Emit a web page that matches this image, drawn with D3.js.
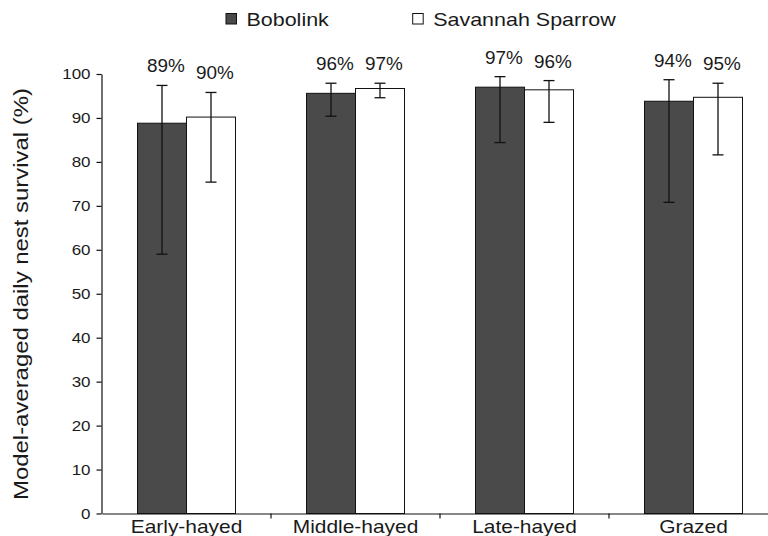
<!DOCTYPE html>
<html>
<head>
<meta charset="utf-8">
<script src="https://cdn.jsdelivr.net/npm/d3@7"></script>
<style>
  html, body { margin: 0; padding: 0; background: #fff; }
  svg { display: block; }
  text { font-family: "Liberation Sans", Arial, Helvetica, sans-serif; fill: #1a1a1a; }
</style>
</head>
<body>
<svg id="chart" width="768" height="536"></svg>
<script>
// Habitat treatments and bird species
const categories = ["Early-hayed", "Middle-hayed", "Late-hayed", "Grazed"];
const seriesNames = ["Bobolink", "Savannah Sparrow"];
const seriesFills = ["#4a4a4a", "#ffffff"];

// Model-averaged daily nest survival (%) with confidence limits
const bobolinkValues = [88.8, 95.6, 97.0, 93.8];
const bobolinkLower  = [59.0, 90.4, 84.4, 70.8];
const bobolinkUpper  = [97.4, 97.9, 99.4, 98.7];
const sparrowValues  = [90.2, 96.7, 96.4, 94.7];
const sparrowLower   = [75.4, 94.6, 89.0, 81.6];
const sparrowUpper   = [95.8, 97.9, 98.5, 97.9];

const yTicks = [0, 10, 20, 30, 40, 50, 60, 70, 80, 90, 100];
const yTitle = "Model-averaged daily nest survival (%)";

const rows = [];
categories.forEach((c, i) => {
  rows.push({ cat: c, series: seriesNames[0], value: bobolinkValues[i], lo: bobolinkLower[i], hi: bobolinkUpper[i] });
  rows.push({ cat: c, series: seriesNames[1], value: sparrowValues[i], lo: sparrowLower[i], hi: sparrowUpper[i] });
});

const svg = d3.select("#chart");

// Widen text along its baseline to match the figure's lettering
function widen(sel, k) {
  sel.each(function () {
    const len = this.getComputedTextLength();
    d3.select(this).attr("textLength", len * k).attr("lengthAdjust", "spacingAndGlyphs");
  });
}

const x0 = d3.scaleBand().domain(categories).range([102, 778]).paddingInner(0).paddingOuter(0);
const x1 = d3.scaleBand().domain(seriesNames).range([35.5, x0.bandwidth() - 35.5]).padding(0);
const y = d3.scaleLinear().domain([0, 100]).range([513.5, 74]);
const color = d3.scaleOrdinal().domain(seriesNames).range(seriesFills);

// Bars
svg.append("g").selectAll("rect")
  .data(rows).join("rect")
  .attr("x", d => x0(d.cat) + x1(d.series))
  .attr("y", d => y(d.value))
  .attr("width", x1.bandwidth())
  .attr("height", d => y(0) - y(d.value))
  .attr("fill", d => color(d.series))
  .attr("stroke", "#111")
  .attr("stroke-width", 1);

// Error bars
const capW = 11;
const eb = svg.append("g").attr("stroke", "#111").attr("stroke-width", 1.3).attr("fill", "none");
const cx = d => x0(d.cat) + x1(d.series) + x1.bandwidth() / 2;
eb.selectAll("line.stem").data(rows).join("line").attr("class", "stem")
  .attr("x1", cx).attr("x2", cx).attr("y1", d => y(d.lo)).attr("y2", d => y(d.hi));
eb.selectAll("line.top").data(rows).join("line").attr("class", "top")
  .attr("x1", d => cx(d) - capW / 2).attr("x2", d => cx(d) + capW / 2)
  .attr("y1", d => y(d.hi)).attr("y2", d => y(d.hi));
eb.selectAll("line.bot").data(rows).join("line").attr("class", "bot")
  .attr("x1", d => cx(d) - capW / 2).attr("x2", d => cx(d) + capW / 2)
  .attr("y1", d => y(d.lo)).attr("y2", d => y(d.lo));

// Value labels
const vl = svg.append("g").selectAll("text").data(rows).join("text")
  .attr("x", d => cx(d) + 4)
  .attr("y", d => y(d.hi) - 13)
  .attr("text-anchor", "middle")
  .attr("font-size", 18)
  .text(d => Math.round(d.value) + "%");
widen(vl, 1.05);

// Y axis
const yAxis = svg.append("g")
  .attr("transform", `translate(${x0.range()[0] - 0.5},0)`)
  .call(d3.axisLeft(y).tickValues(yTicks).tickSize(5).tickPadding(6).tickSizeOuter(0));
yAxis.select(".domain").attr("stroke", "#111").attr("stroke-width", 1.2);
yAxis.selectAll(".tick line").attr("stroke", "#111").attr("stroke-width", 1.2);
const yl = yAxis.selectAll(".tick text").attr("font-size", 15).attr("fill", "#1a1a1a")
  .attr("font-family", "Liberation Sans, Arial, sans-serif");
widen(yl, 1.13);

// X axis: category labels with boundary ticks
const xAxis = svg.append("g")
  .attr("transform", `translate(0,${y(0)})`)
  .call(d3.axisBottom(x0).tickSize(0).tickPadding(0).tickSizeOuter(0));
xAxis.select(".domain").attr("stroke", "#111").attr("stroke-width", 1.2);
const xl = xAxis.selectAll(".tick text")
  .attr("y", 19.5).attr("dy", 0)
  .attr("font-size", 18.5).attr("fill", "#1a1a1a")
  .attr("font-family", "Liberation Sans, Arial, sans-serif");
widen(xl, 1.13);
xAxis.append("g").selectAll("line")
  .data(categories.slice(1)).join("line")
  .attr("x1", d => x0(d)).attr("x2", d => x0(d))
  .attr("y1", 0).attr("y2", 5)
  .attr("stroke", "#111").attr("stroke-width", 1.2);

// Y axis title
const yt = svg.append("text")
  .attr("transform", `translate(28,${294}) rotate(-90)`)
  .attr("text-anchor", "middle")
  .attr("font-size", 21)
  .text(yTitle);
yt.attr("textLength", 412).attr("lengthAdjust", "spacingAndGlyphs");

// Legend
const legendX = [226, 412.7];
const lg = svg.append("g").selectAll("g").data(seriesNames).join("g")
  .attr("transform", (d, i) => `translate(${legendX[i]},13.5)`);
lg.append("rect").attr("width", 10.5).attr("height", 10.5)
  .attr("fill", d => color(d)).attr("stroke", "#111").attr("stroke-width", 1);
const lt = lg.append("text").attr("x", 20.5).attr("y", 12.5).attr("font-size", 18.5).text(d => d);
widen(lt, 1.16);
</script>
</body>
</html>
